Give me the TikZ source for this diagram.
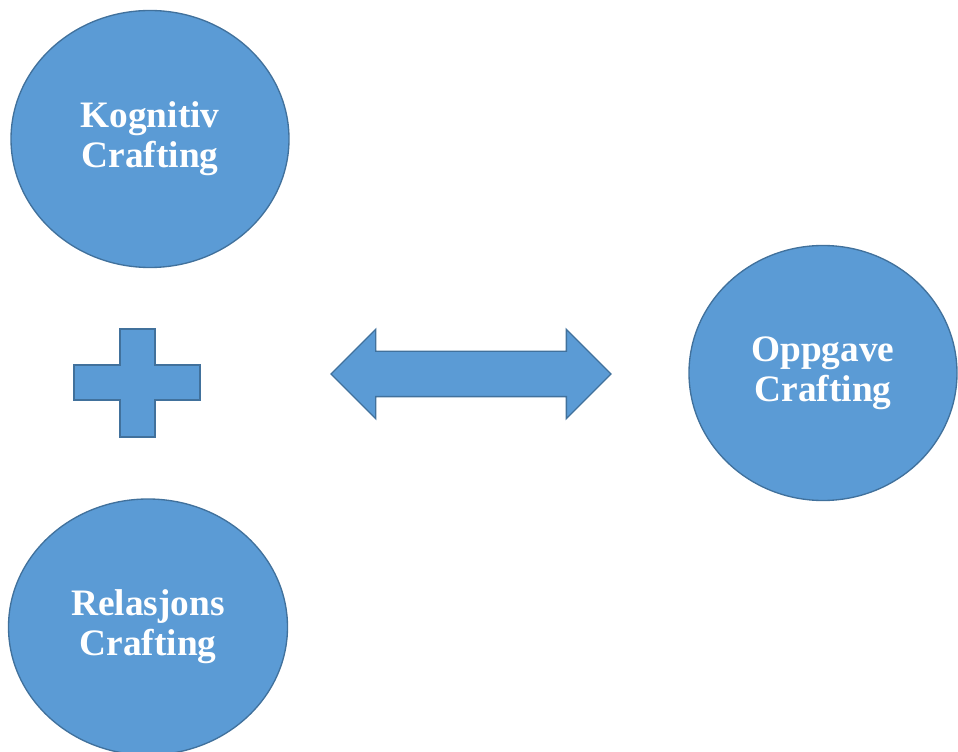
\documentclass[tikz,border=0pt]{standalone}
\usepackage{fontspec}
\setmainfont{Liberation Serif}
\usetikzlibrary{shapes.geometric}
\usetikzlibrary{shapes.arrows}

\definecolor{craftfill}{HTML}{5B9BD5}
\definecolor{craftline}{HTML}{41719C}

\begin{document}
\begin{tikzpicture}[x=0.75pt,y=-0.75pt,
	craft/.style={draw=craftline,fill=craftfill,line width=1pt,shape=ellipse,inner sep=0pt,align=center,text=white,font=\fontsize{28}{30}\selectfont\bfseries}]
	\useasboundingbox (0,0) rectangle (958,752);

	\draw (150,139) node (kognitiv) [craft,minimum width=208.5pt,minimum height=192.75pt] {Kognitiv\\Crafting};
	\draw (148,627) node (relasjon) [craft,minimum width=209.25pt,minimum height=192pt] {Relasjons\\Crafting};
	\draw (823,373) node (oppgave) [craft,minimum width=201pt,minimum height=191.25pt] {Oppgave\\Crafting};

	\draw (471,374) node (pil) [draw=craftline,fill=craftfill,line width=1pt,shape=double arrow,inner xsep=0pt,inner ysep=16.5pt,minimum height=210pt,double arrow head extend=16.5pt,double arrow head indent=0pt] {};

	\draw[draw=craftline,fill=craftfill,line width=1pt] (74,365) -- (120,365) -- (120,329) -- (155,329) -- (155,365) -- (200,365) -- (200,400) -- (155,400) -- (155,437) -- (120,437) -- (120,400) -- (74,400) -- cycle;
\end{tikzpicture}
\end{document}
